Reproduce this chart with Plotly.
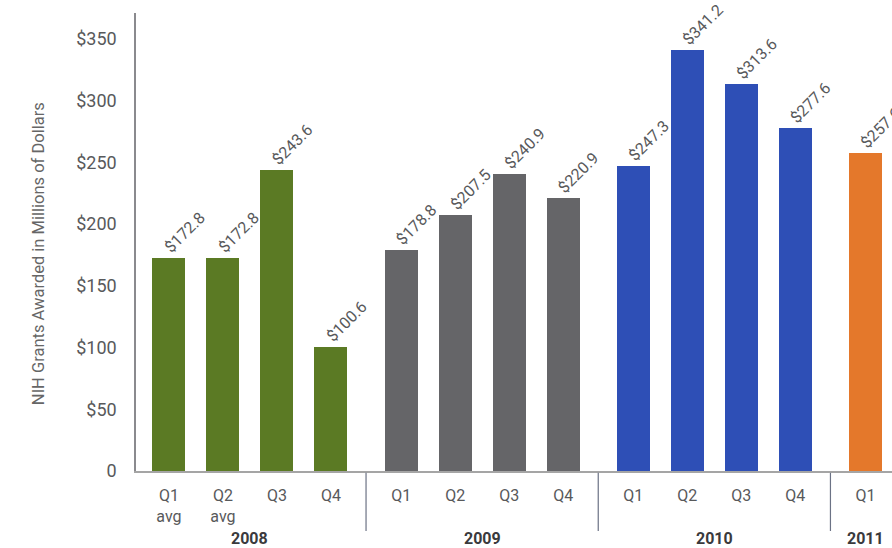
import plotly.graph_objects as go

# Quarterly NIH grant awards, grouped by year
years = ["2008", "2009", "2010", "2011"]
year_colors = ["#5b7a24", "#656568", "#2e4fb6", "#e4782b"]
quarters_by_year = [
    ["Q1<br>avg", "Q2<br>avg", "Q3", "Q4"],
    ["Q1", "Q2", "Q3", "Q4"],
    ["Q1", "Q2", "Q3", "Q4"],
    ["Q1"],
]
grants_by_year = [
    [172.8, 172.8, 243.6, 100.6],
    [178.8, 207.5, 240.9, 220.9],
    [247.3, 341.2, 313.6, 277.6],
    [257.6],
]
y_tick_values = [0, 50, 100, 150, 200, 250, 300, 350]
y_tick_labels = ["0", "$50", "$100", "$150", "$200", "$250", "$300", "$350"]
y_title = "NIH Grants Awarded in Millions of Dollars"

GROUP_STRIDE = 4.3   # slot distance between the first bars of consecutive years
BAR_WIDTH = 0.61
TEXT = "#58595b"
FONT = "Roboto, Arial, sans-serif"

xs, ys, cols, ticktext = [], [], [], []
group_pos = []
for gi, (qs, vals) in enumerate(zip(quarters_by_year, grants_by_year)):
    pos = [gi * GROUP_STRIDE + qi for qi in range(len(qs))]
    group_pos.append(pos)
    xs += pos
    ys += vals
    cols += [year_colors[gi]] * len(vals)
    ticktext += qs

fig = go.Figure()
fig.add_trace(go.Bar(
    x=xs, y=ys, width=BAR_WIDTH,
    marker=dict(color=cols, line=dict(width=0)),
    hoverinfo="skip", showlegend=False,
))

annotations = []
# rotated value labels above each bar
for x, v in zip(xs, ys):
    annotations.append(dict(
        x=x, y=v, xref="x", yref="y", text=f"${v:.1f}",
        textangle=-45, xanchor="left", yanchor="bottom",
        xshift=-10, yshift=0, showarrow=False, borderpad=0,
        font=dict(family=FONT, size=16, color=TEXT),
    ))

# year labels under each group
for yr, pos in zip(years, group_pos):
    annotations.append(dict(
        x=(pos[0] + pos[-1]) / 2, y=-0.147, xref="x", yref="paper",
        text=f"<b>{yr}</b>", showarrow=False, yanchor="middle",
        font=dict(family=FONT, size=16, color="#3a3a3c"),
    ))

# y-axis title
annotations.append(dict(
    x=-0.128, y=0.474, xref="paper", yref="paper", text=y_title,
    textangle=-90, showarrow=False, xanchor="center", yanchor="middle",
    font=dict(family=FONT, size=16.5, color="#666666"),
))

# vertical dividers between year groups
shapes = []
for a, b in zip(group_pos[:-1], group_pos[1:]):
    mid = (a[-1] + b[0]) / 2
    shapes.append(dict(
        type="line", xref="x", yref="paper", x0=mid, x1=mid,
        y0=-0.004, y1=-0.131, line=dict(color="#6b7285", width=1.2),
    ))

fig.update_layout(
    width=892, height=548,
    margin=dict(l=136, r=0, t=13, b=77),
    paper_bgcolor="white", plot_bgcolor="white",
    annotations=annotations, shapes=shapes,
    bargap=0,
)
fig.update_xaxes(
    range=[-0.61, 13.39], tickvals=xs, ticktext=ticktext,
    showgrid=False, zeroline=False, showline=True,
    linecolor="#a5a5a5", linewidth=1.5, ticks="",
    ticklabelstandoff=9,
    tickfont=dict(family=FONT, size=16, color=TEXT),
)
fig.update_yaxes(
    range=[0, 371], tickvals=y_tick_values, ticktext=y_tick_labels,
    showgrid=False, zeroline=False, showline=True,
    linecolor="#8a8a8e", linewidth=1.5, ticks="",
    ticklabelstandoff=14,
    tickfont=dict(family=FONT, size=18, color=TEXT),
)

fig.write_html("out.html")
